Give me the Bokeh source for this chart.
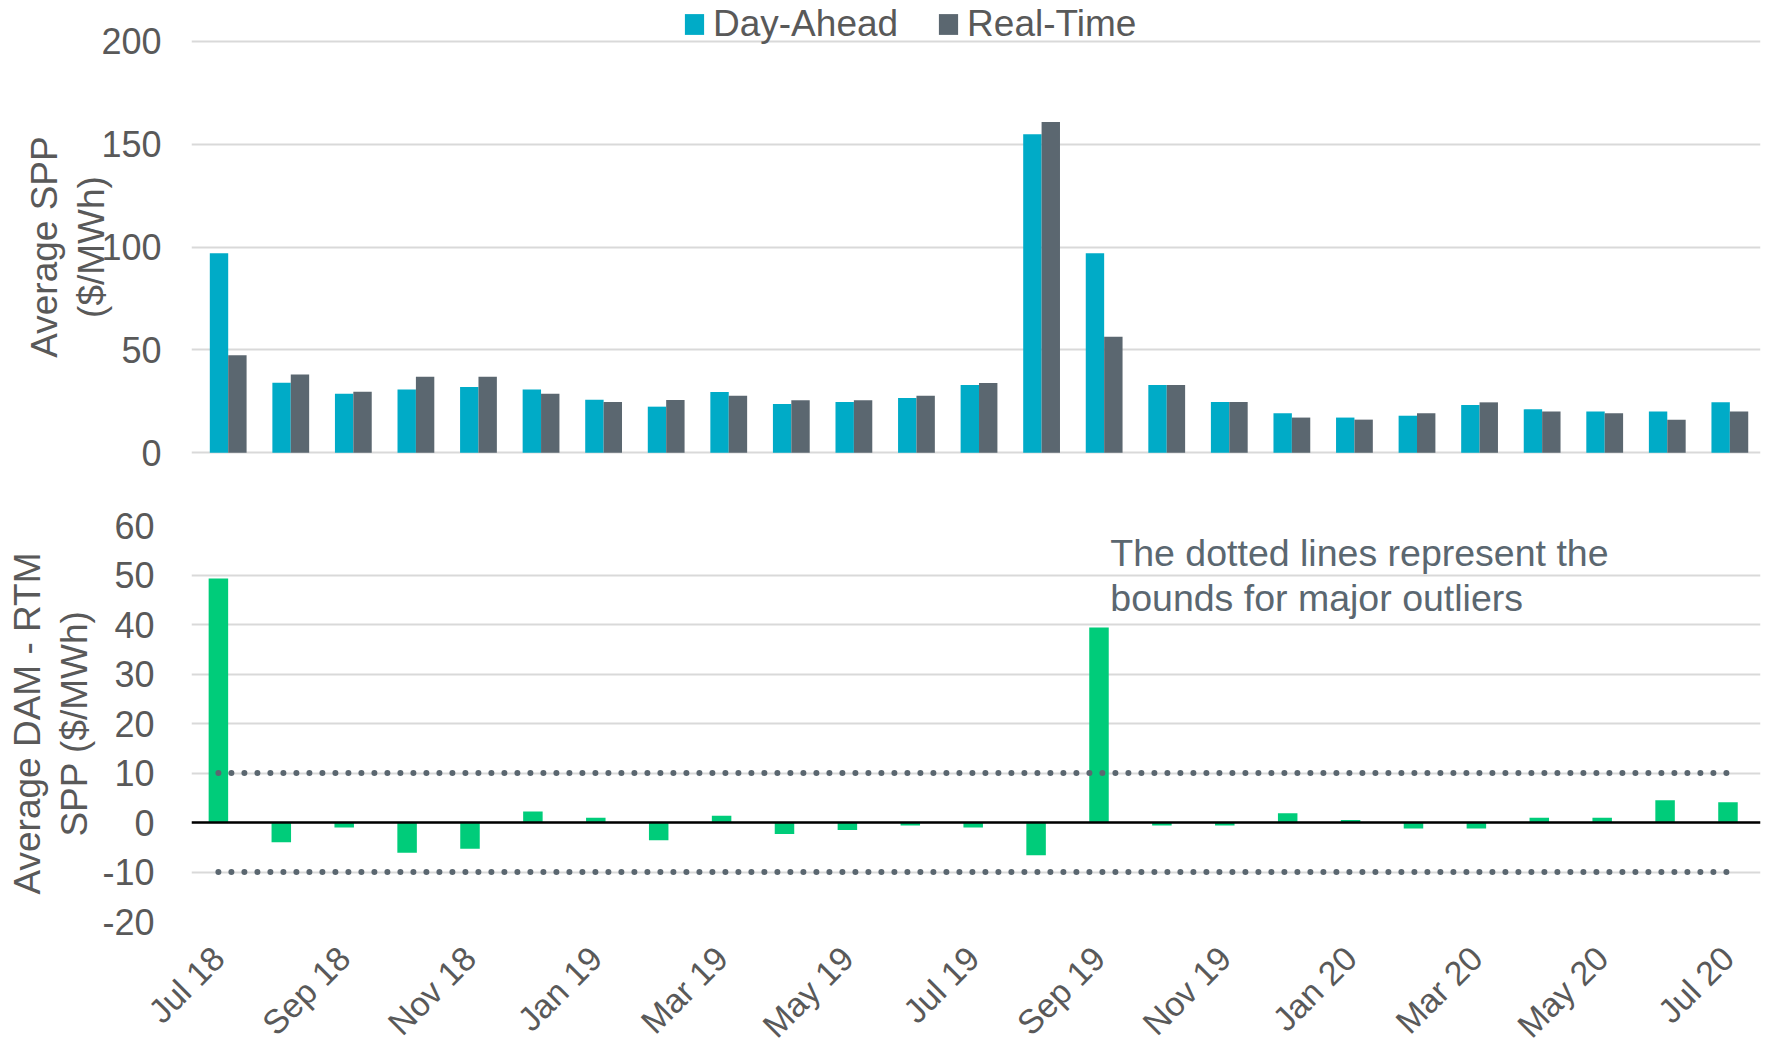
import math
from bokeh.plotting import figure
from bokeh.layouts import column
from bokeh.models import (Range1d, FixedTicker, Span, Label, Legend, LegendItem,
                          ColumnDataSource)
from bokeh.transform import dodge
from bokeh.embed import file_html
from bokeh.resources import INLINE

# ---------------- data ----------------
months = ["Jul 18", "Aug 18", "Sep 18", "Oct 18", "Nov 18", "Dec 18",
          "Jan 19", "Feb 19", "Mar 19", "Apr 19", "May 19", "Jun 19",
          "Jul 19", "Aug 19", "Sep 19", "Oct 19", "Nov 19", "Dec 19",
          "Jan 20", "Feb 20", "Mar 20", "Apr 20", "May 20", "Jun 20", "Jul 20"]
day_ahead = [97.0, 34.0, 28.7, 30.8, 31.9, 30.8, 25.8, 22.4, 29.5, 23.7, 24.7, 26.6,
             32.9, 154.8, 97.0, 32.9, 24.7, 19.2, 17.1, 18.0, 23.2, 21.1, 20.1, 20.1, 24.5]
real_time = [47.4, 38.0, 29.7, 36.9, 37.0, 28.7, 24.7, 25.6, 27.7, 25.5, 25.5, 27.7,
             33.9, 160.8, 56.4, 32.9, 24.7, 17.1, 16.1, 19.2, 24.5, 20.1, 19.2, 16.1, 20.1]
dam_minus_rtm = [49.3, -4.0, -1.0, -6.1, -5.3, 2.2, 0.95, -3.6, 1.35, -2.3, -1.5, -0.6,
                 -1.0, -6.6, 39.4, -0.6, -0.6, 1.85, 0.5, -1.2, -1.2, 0.97, 0.97, 4.5, 4.1]
outlier_upper = 10
outlier_lower = -10
top_ticks = [0, 50, 100, 150, 200]
bottom_ticks = [-20, -10, 0, 10, 20, 30, 40, 50, 60]
bottom_tick_labels = ["-20", "-10", "0", "10", "20", "30", "40", "50", "60"]
labelled_months = months[::2]

# ---------------- style ----------------
DA_COLOR = "#00ABC7"
RT_COLOR = "#5B6770"
DIFF_COLOR = "#00CC7A"
GRID = "#D9D9D9"
TXT = "#595959"
FONT = "Liberation Sans"

idx = list(range(len(months)))
n = len(months)


def style_yaxis(ax, ticks, title, label_standoff, title_standoff):
    ax.ticker = FixedTicker(ticks=ticks)
    ax.axis_line_color = None
    ax.major_tick_line_color = None
    ax.minor_tick_line_color = None
    ax.major_tick_out = 0
    ax.major_tick_in = 0
    ax.minor_tick_out = 0
    ax.major_label_text_font = FONT
    ax.major_label_text_font_size = "36px"
    ax.major_label_text_color = TXT
    ax.major_label_standoff = label_standoff
    ax.axis_label = title
    ax.axis_label_text_font = FONT
    ax.axis_label_text_font_size = "37px"
    ax.axis_label_text_font_style = "normal"
    ax.axis_label_text_color = TXT
    ax.axis_label_text_line_height = 1.15
    ax.axis_label_standoff = title_standoff


# ---------------- top chart ----------------
top = figure(width=1768, height=493, output_backend="svg", toolbar_location=None,
             x_range=Range1d(-0.5866, 24.490), y_range=Range1d(-19.8, 219.8),
             x_axis_location=None,
             min_border_left=191, min_border_right=8, min_border_top=0, min_border_bottom=0)
top.outline_line_color = None
top.xgrid.grid_line_color = None
top.ygrid.grid_line_color = GRID
top.ygrid.grid_line_width = 2
style_yaxis(top.yaxis[0], top_ticks, "Average SPP\n($/MWh)", 30, -14)

src = ColumnDataSource(dict(x=idx, da=day_ahead, rt=real_time))
r_da = top.vbar(x=dodge("x", -0.147, range=top.x_range), top="da", width=0.294,
                source=src, fill_color=DA_COLOR, line_color=None)
r_rt = top.vbar(x=dodge("x", 0.147, range=top.x_range), top="rt", width=0.294,
                source=src, fill_color=RT_COLOR, line_color=None)

legend = Legend(items=[LegendItem(label="Day-Ahead", renderers=[r_da]),
                       LegendItem(label="Real-Time", renderers=[r_rt])],
                orientation="horizontal", location=(491, 448),
                glyph_width=24, glyph_height=26, label_standoff=7, spacing=38,
                padding=0, margin=0, border_line_color=None,
                background_fill_alpha=0,
                label_text_font=FONT, label_text_font_size="37px",
                label_text_color=TXT)
top.add_layout(legend, "center")

# ---------------- bottom chart ----------------
bot = figure(width=1768, height=568, output_backend="svg", toolbar_location=None,
             x_range=Range1d(-0.4277, 24.517), y_range=Range1d(-20, 60),
             min_border_left=191, min_border_right=8, min_border_top=32,
             min_border_bottom=139)
bot.outline_line_color = None
bot.xgrid.grid_line_color = None
bot.ygrid.grid_line_color = GRID
bot.ygrid.grid_line_width = 2
style_yaxis(bot.yaxis[0], bottom_ticks, "Average DAM - RTM\nSPP ($/MWh)", 37, 4)
bot.yaxis.major_label_overrides = {t: s for t, s in zip(bottom_ticks, bottom_tick_labels)}

bot.xaxis.ticker = FixedTicker(ticks=idx[::2])
bot.xaxis.major_label_overrides = {i: m for i, m in zip(idx[::2], labelled_months)}
bot.xaxis.major_label_orientation = math.pi / 4
bot.xaxis.axis_line_color = None
bot.xaxis.major_tick_line_color = None
bot.xaxis.minor_tick_line_color = None
bot.xaxis.major_tick_out = 0
bot.xaxis.major_tick_in = 0
bot.xaxis.minor_tick_out = 0
bot.xaxis.major_label_text_font = FONT
bot.xaxis.major_label_text_font_size = "34px"
bot.xaxis.major_label_text_color = TXT
bot.xaxis.major_label_standoff = 31

bsrc = ColumnDataSource(dict(x=idx, d=dam_minus_rtm))
bot.vbar(x="x", top="d", bottom=0, width=0.31, source=bsrc, fill_color=DIFF_COLOR,
         line_color=None)
bot.add_layout(Span(location=0, dimension="width", line_color="black", line_width=2.5))
for b in (outlier_upper, outlier_lower):
    bot.line(x=[idx[0], idx[-1]], y=[b, b], line_color=RT_COLOR, line_width=6,
             line_dash="0 13", line_cap="round")

bot.add_layout(Label(x=14.18, y=58.6, text="The dotted lines represent the\nbounds for major outliers",
                     text_font=FONT, text_font_size="37.5px", text_color=RT_COLOR,
                     text_baseline="top", text_align="left", text_line_height=1.05))

layout = column(top, bot, spacing=0)
open("out.html", "w").write(file_html(layout, INLINE))
